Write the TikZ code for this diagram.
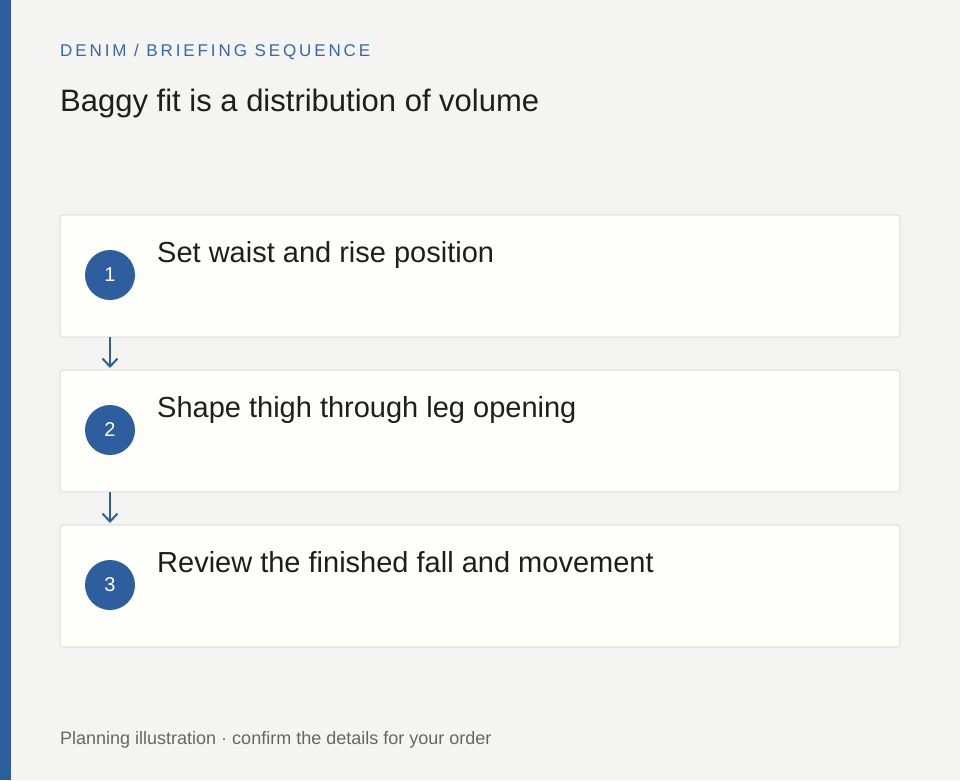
\documentclass[tikz,border=0pt]{standalone}
\usepackage{fontspec}
\setmainfont{Liberation Sans}
\usetikzlibrary{positioning, arrows.meta}

\definecolor{denim}{HTML}{2E5E9E}
\definecolor{kicker}{HTML}{3A68A3}
\definecolor{paper}{HTML}{F4F5F2}
\definecolor{cardfill}{HTML}{FEFEFB}
\definecolor{cardline}{HTML}{E2E3DF}
\definecolor{ink}{HTML}{1E1E1E}
\definecolor{muted}{HTML}{666666}

\tikzset{
  card/.style={draw=cardline, line width=1.2pt, fill=cardfill, rounded corners=3pt,
    minimum width=840pt, minimum height=122pt, inner sep=0pt, outer sep=0pt},
  badge/.style={circle, fill=denim, minimum size=50pt, inner sep=0pt,
    text=white, font=\fontsize{20}{24}\selectfont},
  cardtext/.style={anchor=base west, inner sep=0pt, text=ink,
    font=\fontsize{29}{34}\selectfont},
  flow/.style={->, draw=denim, line width=2pt, shorten >=2pt}
}

\begin{document}
\begin{tikzpicture}[x=1pt, y=-1pt, >={Straight Barb[length=8pt, width=15pt]}]
  \fill[paper] (0,0) rectangle (960,780);
  \fill[denim] (0,0) rectangle (11,780);

  \node[anchor=base west, inner sep=0pt, text=kicker,
    font=\fontsize{17}{20}\selectfont\addfontfeatures{LetterSpace=17}] (head) at (60,56)
    {DENIM / BRIEFING SEQUENCE};
  \node[anchor=base west, inner sep=0pt, text=ink, font=\fontsize{31}{36}\selectfont] (title) at (60,111)
    {Baggy fit is a distribution of volume};

  \node[card, anchor=north west] (step1) at (60,215) {};
  \node[card, below=33pt of step1] (step2) {};
  \node[card, below=33pt of step2] (step3) {};

  \node[badge] (num1) at (110,275) {1};
  \node[badge] (num2) at (110,430) {2};
  \node[badge] (num3) at (110,585) {3};

  \node[cardtext] (txt1) at (157,262) {Set waist and rise position};
  \node[cardtext] (txt2) at (157,417) {Shape thigh through leg opening};
  \node[cardtext] (txt3) at (157,572) {Review the finished fall and movement};

  \draw[flow] (step1.south -| num1) -- (step2.north -| num1);
  \draw[flow] (step2.south -| num2) -- (step3.north -| num2);

  \node[anchor=base west, inner sep=0pt, text=muted, font=\fontsize{18}{22}\selectfont] (foot) at (60,744)
    {Planning illustration · confirm the details for your order};
\end{tikzpicture}
\end{document}
